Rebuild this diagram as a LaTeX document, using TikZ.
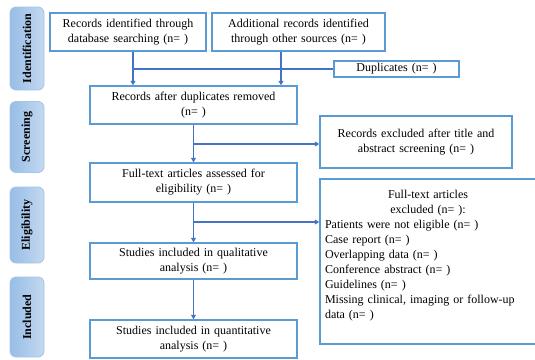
\documentclass[tikz,border=0pt]{standalone}
\usepackage{fontspec}
\setmainfont{Liberation Serif}
\usepackage{tikz}
\usetikzlibrary{arrows.meta, positioning, calc}
\definecolor{boxblue}{HTML}{5B9BD5}
\definecolor{lineblue}{HTML}{4472C4}
\definecolor{stagetop}{HTML}{C3D9F0}
\definecolor{stagebot}{HTML}{98BDE6}

\begin{document}
\begin{tikzpicture}[x=1pt, y=-1pt,
  font=\fontsize{12}{15}\selectfont,
  box/.style={draw=boxblue, line width=1.5pt, fill=white, align=center, inner xsep=3pt, inner ysep=2pt},
  stage/.style={draw=stagebot!90, line width=0.8pt, rounded corners=6pt, left color=stagebot, right color=stagetop, rotate=90, minimum height=34pt, font=\fontsize{12}{14}\selectfont\bfseries},
  link/.style={draw=lineblue, line width=1.5pt},
  arr/.style={link, -{Triangle[length=4.5pt, width=5pt]}}]
  \useasboundingbox (0,0) rectangle (535,359);

  % Stages
  \node[stage, minimum width=83pt] (sid) at (27,48.5) {Identification};
  \node[stage, minimum width=71pt] (sscr) at (27,137) {Screening};
  \node[stage, minimum width=76pt] (selig) at (27,225) {Eligibility};
  \node[stage, minimum width=80pt] (sincl) at (27,317) {Included};

  % Boxes
  \node[box, text width=150pt, minimum height=38pt] (db) at (128,32) {Records identified through\\database searching (n= )};
  \node[box, text width=167pt, minimum height=38pt] (other) at (298.5,32) {Additional records identified\\through other sources (n= )};
  \node[box, text width=119pt, minimum height=16pt] (dup) at (396.5,69) {Duplicates (n= )};
  \node[box, text width=201pt, minimum height=38pt] (afterdup) at (193.5,105) {Records after duplicates removed\\(n= )};
  \node[box, text width=186pt, minimum height=52pt] (excltitle) at (416,142) {Records excluded after title and\\abstract screening (n= )};
  \node[box, text width=201pt, minimum height=39pt] (fulltext) at (193.5,182.5) {Full-text articles assessed for\\eligibility (n= )};
  \node[box, text width=206pt, inner xsep=5pt, minimum height=165pt, align=left] (exclft) at (428,261.5) {%
    \makebox[206pt]{Full-text articles}\\
    \makebox[206pt]{excluded (n= ):}\\
    Patients were not eligible (n= )\\
    Case report (n= )\\
    Overlapping data (n= )\\
    Conference abstract (n= )\\
    Guidelines (n= )\\
    Missing clinical, imaging or follow-up\\
    data (n= )\\
    \mbox{}};
  \node[box, text width=201pt, minimum height=36pt] (qual) at (193.5,261) {Studies included in qualitative\\analysis (n= )};
  \node[box, text width=201pt, minimum height=38pt] (quant) at (193.5,339) {Studies included in quantitative\\analysis (n= )};

  % Connectors
  \coordinate (j1) at (133,69);
  \coordinate (j2) at (281,69);
  \coordinate (j3) at (193.5,144);
  \coordinate (j4) at (193.5,222);
  \draw[link] (db.south -| j1) -- (j1) -- (dup.west);
  \draw[arr] (j1) -- (j1 |- afterdup.north);
  \draw[arr] (other.south -| j2) -- (j2 |- afterdup.north);
  \draw[arr] (afterdup.south) -- (fulltext.north);
  \draw[arr] (j3) -- (j3 -| excltitle.west);
  \draw[arr] (fulltext.south) -- (qual.north);
  \draw[arr] (j4) -- (j4 -| exclft.west);
  \draw[arr] (qual.south) -- (quant.north);
\end{tikzpicture}
\end{document}
